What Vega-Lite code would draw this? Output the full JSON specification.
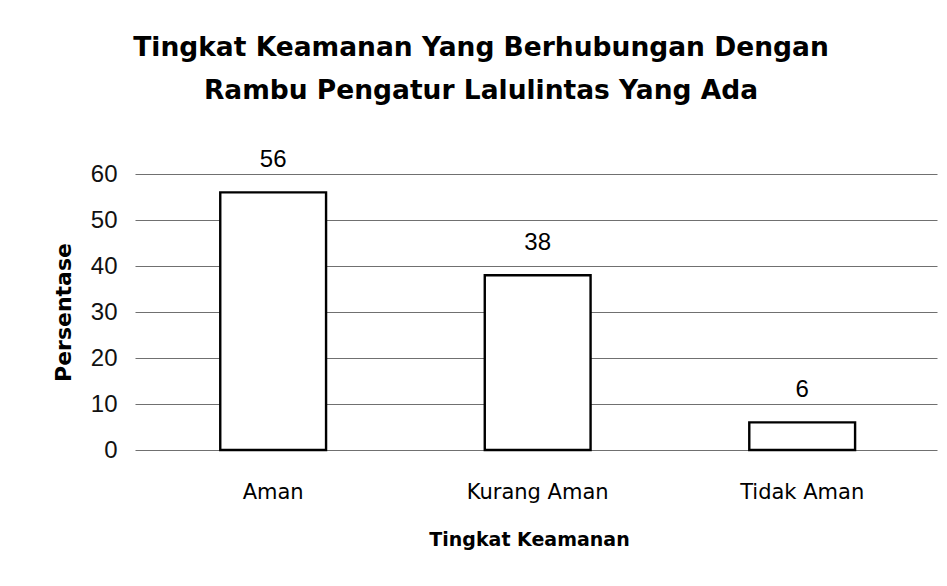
{
  "$schema": "https://vega.github.io/schema/vega-lite/v6.json",
  "width": 802,
  "height": 276,
  "autosize": {"type": "none"},
  "padding": {"left": 135, "top": 174, "right": 10, "bottom": 136},
  "background": "white",
  "title": {
    "text": ["Tingkat Keamanan Yang Berhubungan Dengan", "Rambu Pengatur Lalulintas Yang Ada"],
    "anchor": "middle",
    "font": "DejaVu Sans",
    "fontWeight": "bold",
    "fontSize": 26.5,
    "lineHeight": 43,
    "color": "#000000",
    "baseline": "alphabetic",
    "dx": -55,
    "offset": 0,
    "dy": -23
  },
  "data": {
    "values": [
      {"kategori": "Aman", "persen": 56},
      {"kategori": "Kurang Aman", "persen": 38},
      {"kategori": "Tidak Aman", "persen": 6}
    ]
  },
  "encoding": {
    "x": {
      "field": "kategori", "type": "nominal", "sort": null,
      "scale": {"paddingInner": 0.6, "paddingOuter": 0.316, "align": 0.51},
      "axis": {
        "title": "Tingkat Keamanan", "labelAngle": 0, "ticks": false, "domain": false,
        "labelFont": "DejaVu Sans", "labelFontSize": 21, "labelColor": "#000000", "labelPadding": 31,
        "titleFont": "DejaVu Sans", "titleFontSize": 19, "titleFontWeight": "bold", "titleColor": "#000000", "titlePadding": 28,
        "titleX": 394
      }
    },
    "y": {
      "field": "persen", "type": "quantitative",
      "scale": {"domain": [0, 60]},
      "axis": {
        "title": "Persentase", "values": [0, 10, 20, 30, 40, 50, 60], "ticks": false, "domain": false,
        "gridColor": "#707070", "gridWidth": 1.2, "gridOpacity": 1,
        "labelFont": "Liberation Sans", "labelFontSize": 24, "labelColor": "#111111", "labelPadding": 18,
        "titleFont": "DejaVu Sans", "titleFontSize": 22, "titleFontWeight": "bold", "titleColor": "#000000", "titlePadding": 15
      }
    }
  },
  "layer": [
    {"mark": {"type": "bar", "fill": "white", "stroke": "black", "strokeWidth": 2.4}},
    {"mark": {"type": "text", "font": "Liberation Sans", "fontSize": 24, "baseline": "alphabetic", "dy": -25, "color": "#000000"},
     "encoding": {"text": {"field": "persen", "type": "quantitative"}}}
  ],
  "config": {"view": {"stroke": null}}
}
